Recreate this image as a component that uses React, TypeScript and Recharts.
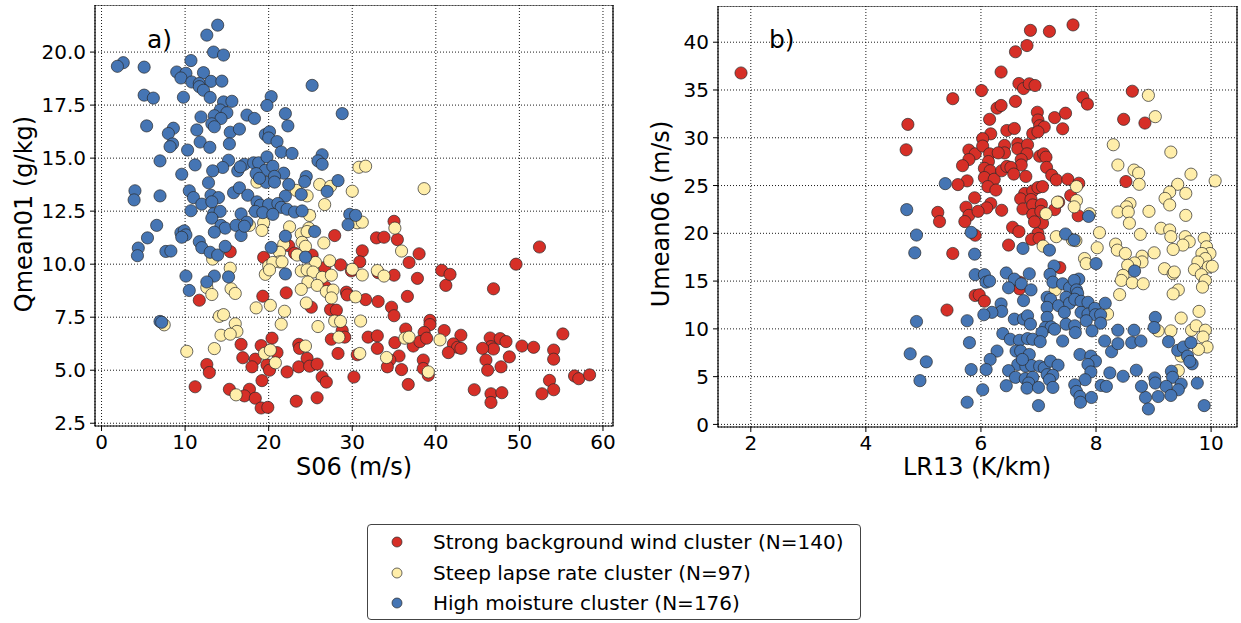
import React from 'react';
import { ScatterChart, Scatter, XAxis, YAxis, CartesianGrid, ReferenceArea } from 'recharts';

type Pt = [number, number];

// panel a: S06 (m/s) vs Qmean01 (g/kg)
const redA: Pt[] = [
  [15.4, 10.59], [19.4, 10.32], [11.7, 8.3], [19.3, 8.49], [16.7, 6.22], [16.9, 5.59], [19.1, 6.16], [18.4, 5.52],
  [18.0, 5.16], [19.8, 5.25], [20.1, 5.0], [20.4, 6.51], [12.6, 5.27], [12.9, 4.89], [11.2, 4.22], [15.3, 4.1],
  [17.7, 4.1], [17.1, 3.79], [18.4, 3.68], [19.2, 4.51], [19.1, 3.22], [19.9, 3.25],
  [35.0, 12.02], [27.9, 11.35], [32.9, 11.24], [33.8, 11.27], [35.4, 11.16], [31.2, 10.63], [38.0, 10.49], [22.4, 10.87],
  [23.1, 10.52], [25.2, 10.43], [26.7, 9.84], [28.6, 9.97], [30.9, 10.11], [29.9, 9.68], [36.8, 10.08], [33.1, 9.6],
  [35.0, 9.48], [37.8, 9.33], [40.7, 9.71], [41.2, 9.0], [26.8, 8.92], [29.3, 8.68], [29.4, 8.55], [31.6, 8.33],
  [33.1, 8.24], [34.7, 7.97], [35.0, 7.57], [36.6, 8.48], [22.1, 8.65], [25.1, 7.97], [27.4, 7.86], [28.1, 7.83],
  [28.8, 6.87], [39.3, 7.35], [39.3, 7.15], [36.4, 6.94], [38.6, 6.78], [41.0, 6.87], [27.5, 6.46], [29.1, 6.56],
  [31.9, 6.56], [33.0, 6.62], [35.1, 6.3], [37.3, 6.14], [38.1, 6.35], [38.9, 6.51], [23.6, 6.22], [23.7, 6.03],
  [21.0, 5.83], [28.3, 5.79], [33.0, 6.03], [30.6, 5.73], [35.6, 5.67], [34.5, 5.48], [34.2, 5.16], [38.5, 5.48],
  [38.5, 5.08], [39.1, 4.76], [35.9, 5.03], [24.6, 5.56], [23.6, 5.16], [24.9, 5.19], [25.8, 5.29], [22.2, 4.92],
  [26.4, 4.68], [26.9, 4.44], [30.2, 4.68], [36.7, 4.33], [23.3, 3.54], [25.8, 3.7],
  [52.4, 10.81], [49.6, 10.0], [41.7, 9.52], [46.9, 8.84], [43.0, 6.65], [42.1, 6.24], [42.6, 6.08], [43.0, 6.03],
  [41.5, 5.83], [46.5, 6.52], [47.7, 6.49], [48.4, 6.35], [46.6, 6.11], [46.9, 6.0], [45.6, 6.03], [50.3, 6.14],
  [51.7, 6.08], [46.0, 5.48], [48.8, 5.63], [47.8, 5.16], [46.2, 5.0], [54.1, 5.95], [54.1, 5.52], [55.2, 6.71],
  [44.6, 4.08], [46.6, 3.89], [46.6, 3.48], [47.9, 3.94], [53.6, 4.52], [54.1, 4.08], [52.7, 3.89], [56.6, 4.73],
  [57.1, 4.6], [58.4, 4.78],
];

const yellowA: Pt[] = [
  [18.6, 13.87], [30.8, 14.57], [31.6, 14.62], [38.6, 13.56], [30.0, 13.44], [26.1, 13.76], [27.4, 13.67], [23.3, 13.48],
  [24.6, 13.22], [26.7, 12.81], [24.9, 12.3],
  [19.4, 11.95], [19.2, 11.59], [17.7, 11.83], [13.3, 10.24], [20.0, 9.92], [19.6, 9.52], [15.4, 9.81], [12.6, 8.9],
  [13.2, 8.57], [15.5, 8.84], [16.0, 8.62], [18.5, 7.94], [20.2, 8.06], [7.5, 7.14], [14.1, 7.54], [14.6, 7.62],
  [16.0, 7.19], [16.2, 6.83], [14.3, 6.65], [15.4, 6.7], [13.5, 6.02], [10.2, 5.89], [19.5, 5.79], [20.2, 5.95],
  [16.1, 3.84],
  [35.1, 11.7], [30.6, 11.95], [31.2, 11.98], [22.5, 11.76], [24.8, 11.7], [23.9, 11.43], [24.6, 11.54], [24.0, 11.03],
  [24.4, 10.84], [26.6, 11.0], [35.9, 10.62], [21.8, 10.94], [21.3, 10.56], [21.3, 10.11], [20.5, 10.08], [23.4, 10.43],
  [21.6, 10.11], [25.6, 10.08], [27.3, 10.16], [30.0, 9.76], [33.0, 9.7], [33.8, 9.44], [31.2, 9.49], [20.1, 9.73],
  [23.9, 9.68], [24.6, 9.73], [25.3, 9.63], [26.4, 9.38], [27.5, 9.48], [24.7, 9.16], [25.8, 9.0], [23.9, 8.81],
  [26.9, 8.71], [27.7, 8.78], [27.5, 8.41], [30.4, 8.46], [24.5, 8.17], [21.9, 7.78], [27.9, 7.32], [28.6, 7.3],
  [31.0, 7.32], [21.5, 7.17], [25.9, 7.06], [28.4, 6.56], [36.3, 6.51], [36.8, 6.56], [40.5, 6.43], [24.4, 6.14],
  [20.8, 5.35], [30.9, 5.79], [34.1, 5.6], [39.1, 4.92],
];

const blueA: Pt[] = [
  [13.9, 21.27], [12.6, 20.8], [13.4, 20.0], [14.6, 19.86], [10.7, 19.6], [2.6, 19.5], [1.9, 19.33], [5.1, 19.29],
  [9.0, 19.06], [10.1, 19.0], [12.2, 19.03], [9.5, 18.78], [10.8, 18.59], [11.7, 18.52], [13.1, 18.62], [14.4, 18.63],
  [11.7, 18.37], [12.2, 18.2], [13.0, 17.86], [5.1, 17.97], [6.2, 17.83], [9.8, 17.87], [14.6, 17.65], [15.6, 17.68],
  [20.3, 17.9], [19.8, 17.48], [14.2, 17.27], [15.0, 17.14], [13.5, 17.0], [14.3, 16.87], [11.9, 16.94], [17.4, 17.03],
  [18.3, 16.87], [5.4, 16.52], [8.6, 16.41], [8.0, 16.16], [11.4, 16.33], [13.2, 16.62], [13.5, 16.48], [15.4, 16.22],
  [16.5, 16.37], [19.6, 16.11], [20.1, 16.24], [20.0, 15.95], [8.5, 15.67], [8.2, 15.54], [11.8, 15.76], [12.96, 15.51],
  [15.3, 15.67], [10.3, 15.38], [7.0, 14.87], [11.2, 14.68], [15.2, 14.9], [14.5, 14.56], [13.3, 14.4], [16.3, 14.4],
  [17.1, 14.71], [16.6, 14.59], [18.2, 14.78], [18.8, 14.78], [19.8, 15.06], [19.6, 14.43], [20.5, 14.62], [18.5, 14.27],
  [9.6, 14.24], [12.8, 13.84], [19.7, 13.86], [18.9, 14.05], [4.0, 13.46], [3.9, 13.03], [7.0, 13.22], [10.5, 13.46],
  [11.0, 13.14], [12.0, 12.83], [13.1, 13.25], [14.0, 13.14], [13.2, 12.94], [15.8, 13.37], [16.5, 13.6], [17.5, 13.25],
  [18.6, 12.94], [19.0, 12.78], [20.0, 12.81], [10.7, 12.52], [13.4, 12.38], [14.2, 12.49], [16.7, 12.37], [18.4, 12.49],
  [19.3, 12.43],
  [25.2, 18.43], [28.8, 17.1], [22.0, 17.1], [22.3, 16.52], [21.0, 15.78], [21.5, 15.29], [22.8, 15.22], [26.4, 15.16],
  [25.9, 14.87], [26.4, 14.71], [21.8, 14.29], [20.7, 14.14], [20.7, 13.87], [24.5, 14.13], [24.3, 13.89], [22.4, 13.76],
  [28.3, 13.94], [27.0, 13.43], [23.9, 13.29], [22.0, 13.21], [21.1, 12.86], [21.5, 12.68], [22.2, 12.59], [23.1, 12.46],
  [24.0, 12.51], [29.7, 12.35], [30.4, 12.3], [20.5, 12.35],
  [13.2, 12.17], [14.3, 11.83], [14.8, 11.7], [16.1, 11.83], [17.4, 11.98], [16.7, 11.35], [17.1, 11.79], [13.5, 11.51],
  [6.6, 11.83], [5.5, 11.24], [4.4, 10.76], [4.3, 10.4], [7.7, 10.6], [8.3, 10.62], [9.5, 11.48], [9.9, 11.57],
  [10.1, 11.38], [9.6, 11.27], [11.7, 11.06], [12.0, 10.78], [13.0, 10.56], [13.9, 10.43], [14.8, 10.84], [20.3, 10.79],
  [13.5, 9.44], [15.2, 9.4], [10.1, 9.44], [12.6, 9.16], [10.5, 8.76], [7.0, 7.3], [7.2, 7.26],
  [29.5, 11.86], [22.0, 11.32], [25.5, 11.54], [24.4, 10.33], [22.0, 9.54],
];

// panel b: LR13 (K/km) vs Umean06 (m/s)
const redB: Pt[] = [
  [1.83, 36.78], [5.51, 34.09], [4.73, 31.4], [4.7, 28.74], [5.79, 28.71], [5.9, 28.32], [5.79, 27.72], [5.68, 27.08],
  [5.76, 25.49], [5.6, 25.1], [5.25, 22.19], [5.74, 22.73], [5.79, 21.88], [5.89, 23.72],
  [6.86, 41.24], [7.19, 41.13], [7.6, 41.81], [6.6, 39.0], [6.8, 39.65], [6.35, 36.88], [6.66, 35.68], [6.74, 35.15],
  [6.84, 35.65], [6.94, 35.47], [6.01, 34.94], [7.77, 34.23], [7.85, 33.52], [8.63, 34.87], [8.48, 31.93], [8.85, 31.54],
  [6.6, 33.81], [6.28, 33.1], [6.35, 33.38], [6.15, 31.93], [6.98, 32.67], [6.99, 31.86], [7.02, 31.26], [7.1, 31.12],
  [7.28, 32.11], [7.47, 32.57], [7.42, 30.94], [6.45, 30.76], [6.58, 30.97], [6.9, 30.44], [6.99, 30.62], [6.17, 30.41],
  [6.03, 29.91], [6.03, 29.13], [6.15, 28.32], [6.41, 29.2], [6.41, 28.42], [6.3, 28.42], [6.64, 29.38], [6.64, 28.85],
  [6.81, 29.27], [6.8, 28.32], [6.7, 27.72], [6.7, 27.15], [7.02, 28.07], [7.09, 28.32], [7.13, 27.97], [6.13, 27.51],
  [6.06, 26.8], [6.16, 26.55], [6.06, 25.84], [6.23, 25.66], [6.36, 26.55], [6.45, 27.0], [6.52, 26.9], [6.57, 26.2],
  [6.78, 25.95], [7.14, 26.9], [7.23, 26.09], [7.31, 25.59], [7.51, 25.66], [7.7, 25.24], [8.52, 25.42], [6.12, 24.89],
  [6.26, 24.53], [6.76, 24.18], [6.9, 24.43], [6.99, 24.79], [7.07, 24.89], [6.69, 23.61], [6.87, 23.54], [7.35, 23.26],
  [7.56, 23.96], [6.17, 23.12], [6.1, 22.66], [5.95, 22.3], [6.36, 22.41], [6.73, 22.55], [6.9, 22.97], [6.9, 21.98],
  [7.05, 23.01], [7.04, 22.3], [7.28, 22.48], [7.69, 21.84],
  [5.28, 21.23], [5.72, 21.23], [5.51, 17.89], [5.9, 13.49], [5.41, 11.97], [6.55, 20.63], [6.66, 20.18], [6.99, 20.0],
  [6.88, 19.37], [7.01, 19.47], [6.48, 18.77], [7.07, 21.06], [6.93, 21.2], [7.37, 16.41], [6.67, 14.89], [6.67, 14.19],
  [5.97, 13.56], [6.06, 12.89], [5.9, 19.8],
];

const yellowB: Pt[] = [
  [8.91, 34.44], [9.03, 32.21], [8.3, 29.27], [9.3, 28.5], [8.38, 27.15], [8.66, 26.62], [8.74, 26.3], [8.75, 25.13],
  [9.42, 25.13], [9.65, 26.19], [10.07, 25.49], [7.66, 24.89], [7.66, 23.43], [7.33, 23.26], [7.62, 22.77], [7.13, 22.05],
  [9.28, 24.32], [9.2, 23.65], [9.56, 24.18], [9.28, 22.97], [8.59, 23.12], [8.53, 22.77], [8.38, 22.23], [8.56, 22.23],
  [8.92, 22.3], [9.56, 21.88], [7.89, 22.05],
  [8.58, 21.06], [7.31, 19.65], [7.59, 19.3], [7.65, 19.23], [8.06, 20.07], [8.77, 19.89], [9.13, 20.53], [9.28, 20.35],
  [9.3, 19.65], [9.55, 19.65], [9.62, 19.12], [9.51, 18.77], [9.88, 19.47], [9.92, 18.59], [9.98, 17.89], [9.84, 17.89],
  [9.9, 17.36], [9.77, 17.0], [9.95, 16.48], [10.02, 16.55], [9.71, 16.2], [9.83, 15.67], [9.9, 15.07], [9.85, 14.37],
  [7.08, 18.66], [8.02, 18.49], [8.34, 18.87], [8.37, 18.24], [8.51, 17.89], [8.8, 17.61], [8.8, 17.01], [8.67, 16.9],
  [8.55, 16.65], [9.01, 17.96], [9.34, 18.31], [7.8, 17.36], [7.83, 16.83], [9.19, 16.3], [9.34, 15.77], [9.36, 15.95],
  [8.47, 15.6], [8.44, 15.07], [8.63, 14.82], [8.82, 14.72], [9.43, 14.08], [9.34, 13.66], [8.41, 13.59], [7.29, 14.08],
  [8.2, 11.55], [9.08, 9.79], [9.3, 9.79], [9.48, 11.13], [9.66, 9.86], [9.74, 10.32], [9.79, 11.83], [9.9, 9.86],
  [9.86, 9.15], [9.93, 8.1], [9.78, 7.85], [9.48, 7.15], [9.43, 5.63],
];

const blueB: Pt[] = [
  [5.38, 25.2], [4.71, 22.48], [7.87, 21.77],
  [4.88, 19.82], [4.85, 17.96], [5.83, 20.1], [5.89, 17.82], [5.9, 15.67], [4.88, 10.77], [5.76, 10.85], [5.8, 8.56],
  [4.77, 7.39], [5.05, 6.55], [5.83, 5.74], [4.94, 4.58], [5.76, 2.32],
  [7.47, 19.93], [7.62, 19.3], [7.19, 18.24], [6.73, 18.42], [8.0, 16.83], [7.27, 16.58], [8.67, 16.06], [6.06, 15.67],
  [6.09, 14.89], [6.15, 15.0], [6.44, 15.85], [6.58, 15.21], [6.48, 14.3], [6.84, 15.77], [6.7, 14.72], [6.87, 14.08],
  [7.2, 15.7], [7.25, 14.89], [7.42, 14.72], [7.54, 14.3], [7.7, 15.21], [7.62, 15.07], [7.66, 14.08], [7.68, 13.73],
  [7.15, 13.31], [7.21, 13.1], [7.15, 12.25], [7.35, 12.43], [7.48, 13.31], [7.54, 12.68], [7.63, 13.1], [7.74, 12.89],
  [7.86, 12.78], [7.45, 11.73], [7.74, 11.73], [7.86, 11.55], [7.98, 12.15], [7.99, 11.48], [8.08, 11.48], [8.16, 12.68],
  [7.83, 10.85], [8.08, 10.6], [6.35, 12.61], [6.36, 11.83], [6.19, 11.73], [6.05, 11.48], [6.58, 11.02], [6.74, 11.02],
  [6.81, 11.37], [6.86, 10.49], [6.74, 12.96], [7.15, 11.2], [7.12, 10.14], [7.22, 10.2], [7.06, 9.61], [7.28, 9.96],
  [7.48, 10.49], [7.63, 10.32], [7.64, 9.61], [7.93, 9.79], [6.38, 9.51], [6.51, 8.91], [6.67, 8.8], [6.81, 8.98],
  [6.9, 8.91], [7.03, 8.66], [7.42, 8.73], [6.28, 7.68], [6.16, 6.8], [6.09, 5.74], [6.61, 7.68], [6.69, 7.68],
  [6.84, 7.32], [6.64, 6.27], [6.78, 6.09], [6.88, 6.16], [6.72, 6.8], [7.02, 6.09], [7.1, 5.92], [7.21, 6.62],
  [7.34, 6.2], [7.15, 5.21], [7.25, 5.14], [7.19, 4.68], [6.48, 5.63], [6.6, 4.93], [6.77, 4.79], [6.9, 4.93],
  [6.83, 4.33], [6.8, 3.8], [7.0, 3.87], [7.25, 3.87], [6.44, 4.05], [6.03, 3.63], [7.0, 1.97], [7.72, 7.32],
  [7.91, 7.15], [7.99, 6.62], [7.86, 6.27], [7.91, 5.49], [7.81, 4.68], [7.63, 4.15], [7.66, 3.45], [7.72, 2.92],
  [7.73, 2.32], [7.92, 2.82], [8.09, 4.08], [8.18, 3.98], [8.24, 5.39], [8.47, 5.04], [8.7, 5.67], [8.15, 8.73],
  [8.27, 7.61], [8.38, 9.86], [8.38, 8.45], [8.66, 9.86], [8.62, 8.56], [8.78, 8.73], [9.03, 11.2], [9.01, 10.14],
  [9.26, 8.66], [9.42, 7.75], [9.52, 8.1], [9.65, 8.56], [9.59, 7.15], [9.67, 6.34], [9.63, 6.6], [9.31, 5.56],
  [9.33, 4.93], [9.02, 4.86], [9.03, 4.33], [9.22, 3.98], [9.48, 4.23], [9.43, 3.63], [9.3, 3.03], [9.08, 2.92],
  [8.86, 2.82], [8.79, 3.98], [8.91, 1.62], [9.76, 4.33], [9.88, 1.97],
];

const ticksA_x = [0, 10, 20, 30, 40, 50, 60];
const ticksA_y = [2.5, 5, 7.5, 10, 12.5, 15, 17.5, 20];
const ticksB_x = [2, 4, 6, 8, 10];
const ticksB_y = [0, 5, 10, 15, 20, 25, 30, 35, 40];

const clusters = [
  { name: 'Strong background wind cluster (N=140)', color: '#d62f27' },
  { name: 'Steep lapse rate cluster (N=97)', color: '#ffeeaa' },
  { name: 'High moisture cluster (N=176)', color: '#4575b4' },
];

const FONT = '"DejaVu Sans", sans-serif';
const toObj = (pts: Pt[]) => pts.map(([x, y]) => ({ x, y }));

const dot = (fill: string) => (props: any) => (
  <circle cx={props.cx} cy={props.cy} r={6.1} fill={fill} stroke="#2a2a2a" strokeWidth={0.7} />
);

interface PanelProps {
  left: number;
  top: number;
  yWidth: number;
  marginRight: number;
  xDomain: [number, number];
  yDomain: [number, number];
  xTicks: number[];
  yTicks: number[];
  yFmt: (v: number) => string;
  series: Pt[][];
}

const Panel: React.FC<PanelProps> = ({ left, top, yWidth, marginRight, xDomain, yDomain, xTicks, yTicks, yFmt, series }) => (
  <div style={{ position: 'absolute', left, top }}>
    <ScatterChart width={620} height={480} margin={{ top: 0, right: marginRight, bottom: 0, left: 0 }}>
      <CartesianGrid stroke="#000" strokeDasharray="1 2" strokeWidth={0.9} />
      <XAxis
        type="number"
        dataKey="x"
        domain={xDomain}
        ticks={xTicks}
        interval={0}
        allowDataOverflow
        height={59}
        axisLine={false}
        tickSize={5}
        tickMargin={4}
        tickLine={{ stroke: '#000' }}
        tick={{ fill: '#000', fontSize: 20, fontFamily: FONT }}
      />
      <YAxis
        type="number"
        dataKey="y"
        domain={yDomain}
        ticks={yTicks}
        interval={0}
        allowDataOverflow
        width={yWidth}
        axisLine={false}
        tickSize={5}
        tickMargin={4}
        tickLine={{ stroke: '#000' }}
        tickFormatter={yFmt}
        tick={{ fill: '#000', fontSize: 20, fontFamily: FONT }}
      />
      {series.map((pts, i) => (
        <Scatter key={i} data={toObj(pts)} isAnimationActive={false} shape={dot(clusters[i].color)} />
      ))}
      <ReferenceArea
        x1={xDomain[0]}
        x2={xDomain[1]}
        y1={yDomain[0]}
        y2={yDomain[1]}
        fill="none"
        stroke="#000"
        strokeWidth={1.2}
        ifOverflow="visible"
      />
    </ScatterChart>
  </div>
);

const txt = (style: React.CSSProperties): React.CSSProperties => ({
  position: 'absolute',
  fontFamily: FONT,
  color: '#000',
  whiteSpace: 'nowrap',
  lineHeight: 1,
  ...style,
});

const App: React.FC = () => (
  <div style={{ position: 'absolute', left: 0, top: 0, width: 1241, height: 623, background: '#fff', overflow: 'hidden' }}>
    <Panel
      left={0}
      top={5}
      yWidth={95}
      marginRight={7}
      xDomain={[-0.78, 61.2]}
      yDomain={[2.37, 22.22]}
      xTicks={ticksA_x}
      yTicks={ticksA_y}
      yFmt={(v) => v.toFixed(1)}
      series={[redA, yellowA, blueA]}
    />
    <Panel
      left={620}
      top={6}
      yWidth={98}
      marginRight={3}
      xDomain={[1.43, 10.45]}
      yDomain={[-0.27, 43.79]}
      xTicks={ticksB_x}
      yTicks={ticksB_y}
      yFmt={(v) => String(v)}
      series={[redB, yellowB, blueB]}
    />

    <div style={txt({ left: 147, top: 27, fontSize: 25 })}>a)</div>
    <div style={txt({ left: 769, top: 27, fontSize: 25 })}>b)</div>

    <div style={txt({ left: 354, top: 467, fontSize: 24, transform: 'translate(-50%, -50%)' })}>S06 (m/s)</div>
    <div style={txt({ left: 977, top: 467, fontSize: 24, transform: 'translate(-50%, -50%)' })}>LR13 (K/km)</div>
    <div style={txt({ left: 24, top: 214, fontSize: 24, transform: 'translate(-50%, -50%) rotate(-90deg)' })}>
      Qmean01 (g/kg)
    </div>
    <div style={txt({ left: 661, top: 214, fontSize: 24, transform: 'translate(-50%, -50%) rotate(-90deg)' })}>
      Umean06 (m/s)
    </div>

    <div
      style={{
        position: 'absolute',
        left: 367,
        top: 524,
        width: 494,
        height: 96,
        border: '1px solid #444',
        borderRadius: 4,
        boxSizing: 'border-box',
      }}
    >
      {clusters.map((c, i) => (
        <div key={c.name} style={{ position: 'absolute', left: 0, top: 17 + i * 30.5 - 12, height: 24, display: 'flex', alignItems: 'center' }}>
          <svg width={60} height={24} style={{ display: 'block' }}>
            <circle cx={29} cy={12} r={5} fill={c.color} stroke="#2a2a2a" strokeWidth={0.7} />
          </svg>
          <span style={{ fontFamily: FONT, fontSize: 20, marginLeft: 5, whiteSpace: 'nowrap' }}>{c.name}</span>
        </div>
      ))}
    </div>
  </div>
);

export default App;
